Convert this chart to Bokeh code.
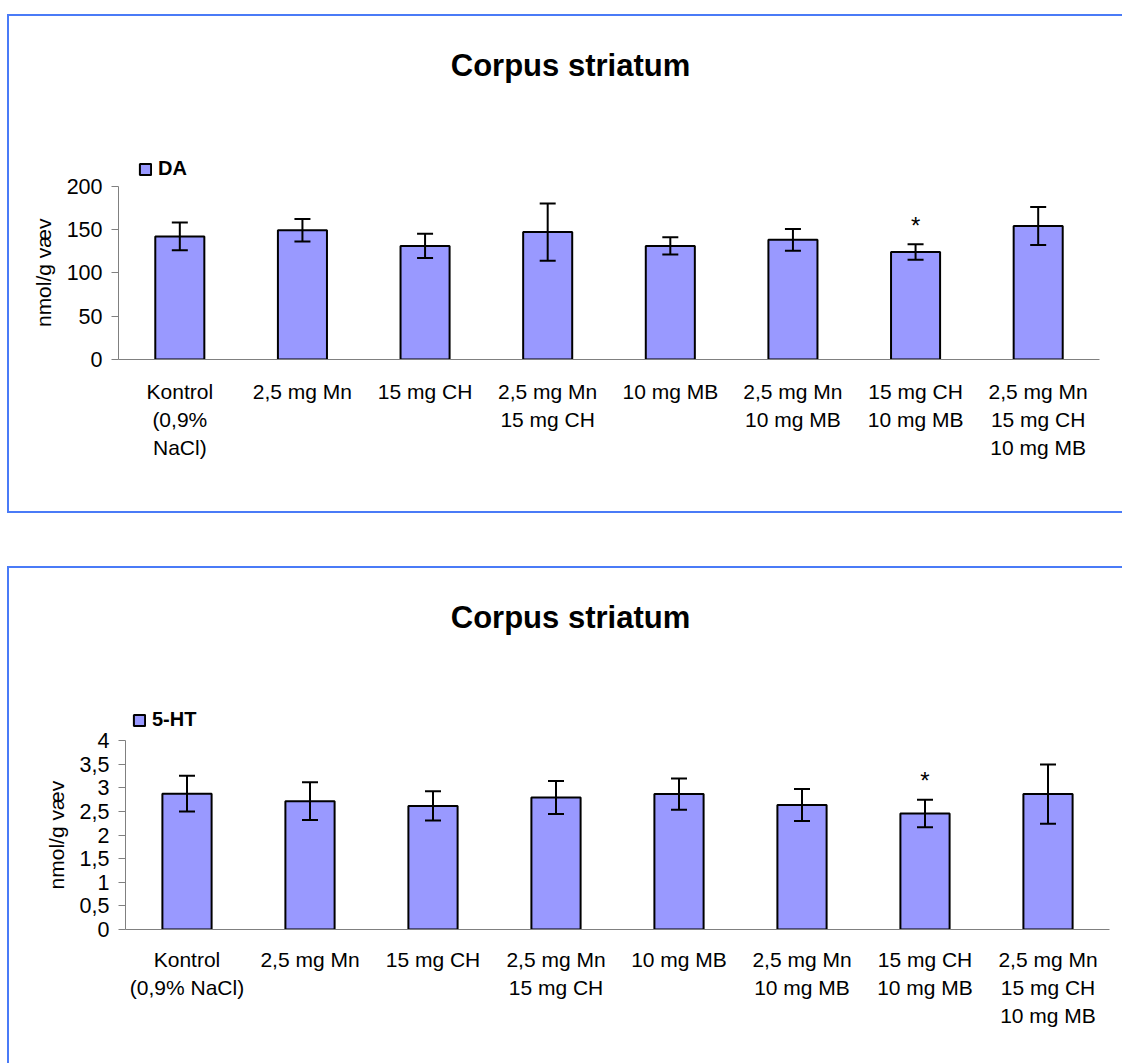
from bokeh.plotting import figure
from bokeh.models import (FactorRange, Range1d, FixedTicker, CustomJSTickFormatter, Whisker,
                          TeeHead, ColumnDataSource, Label, Legend, LegendItem, Spacer, Title)
from bokeh.layouts import column, row
from bokeh.embed import file_html
from bokeh.resources import INLINE
from bokeh.core.properties import value

# ---------------- data ----------------
groups_da = ["Kontrol\n(0,9%\nNaCl)", "2,5 mg Mn", "15 mg CH", "2,5 mg Mn\n15 mg CH",
             "10 mg MB", "2,5 mg Mn\n10 mg MB", "15 mg CH\n10 mg MB",
             "2,5 mg Mn\n15 mg CH\n10 mg MB"]
groups_ht = ["Kontrol\n(0,9% NaCl)", "2,5 mg Mn", "15 mg CH", "2,5 mg Mn\n15 mg CH",
             "10 mg MB", "2,5 mg Mn\n10 mg MB", "15 mg CH\n10 mg MB",
             "2,5 mg Mn\n15 mg CH\n10 mg MB"]
da_values = [142, 149, 131, 147, 131, 138, 124, 154]
da_sem = [16, 13, 14, 33, 10, 12.5, 9, 22]
ht_values = [2.88, 2.72, 2.62, 2.80, 2.87, 2.64, 2.46, 2.87]
ht_sem = [0.38, 0.40, 0.31, 0.35, 0.33, 0.34, 0.29, 0.63]
significant = [False, False, False, False, False, False, True, False]
da_ticks = [0, 50, 100, 150, 200]
ht_ticks = [0, 0.5, 1, 1.5, 2, 2.5, 3, 3.5, 4]
title_text = "Corpus striatum"
y_label = "nmol/g væv"

FONT = "Liberation Sans"
BAR_FILL = "#9999FF"
FRAME_BLUE = "#4a7bf7"
YLABEL_LEN = 108.5   # approx. pixel length of the rotated value-axis title


def make_chart(groups, vals, errs, ticks, legend_label, height, borders, plot_h,
               legend_loc, title_pos, label_standoff, shadow, comma):
    bl, br, bb = borders
    frame_h = height - bb
    y_end = ticks[-1] * frame_h / plot_h   # extra room above the value axis for title/legend
    p = figure(width=1115, height=height,
               x_range=FactorRange(*groups, range_padding=0, factor_padding=0),
               y_range=Range1d(ticks[0], y_end), output_backend="svg",
               toolbar_location=None, min_border_left=bl, min_border_right=br,
               min_border_top=0, min_border_bottom=bb)
    p.frame_align = False
    p.background_fill_color = None
    p.border_fill_color = None
    p.outline_line_color = None
    p.xgrid.visible = False
    p.ygrid.visible = False
    p.styles = {"box-shadow": shadow}

    upper = [v + e for v, e in zip(vals, errs)]
    lower = [v - e for v, e in zip(vals, errs)]
    src = ColumnDataSource(dict(x=groups, top=vals, upper=upper, lower=lower))
    bars = p.vbar(x="x", top="top", width=0.4, source=src, fill_color=BAR_FILL,
                  line_color="black", line_width=2)
    wh = Whisker(base="x", upper="upper", lower="lower", source=src,
                 line_color="black", line_width=2, level="overlay",
                 upper_head=TeeHead(size=16, line_color="black", line_width=2),
                 lower_head=TeeHead(size=16, line_color="black", line_width=2))
    p.add_layout(wh)

    sx = [g for g, s in zip(groups, significant) if s]
    sy = [u for u, s in zip(upper, significant) if s]
    p.text(x=sx, y=sy, text=["*"] * len(sx), text_font=value(FONT),
           text_font_size="24px", text_align="center", text_baseline="middle",
           y_offset=-19, text_color="black")

    # axes
    ya = p.yaxis[0]
    ya.ticker = FixedTicker(ticks=ticks)
    ya.bounds = (ticks[0], ticks[-1])
    if comma:
        ya.formatter = CustomJSTickFormatter(code="return tick.toString().replace('.', ',')")
    ya.axis_line_color = "#808080"
    ya.major_tick_line_color = "#808080"
    ya.major_tick_out = 7
    ya.major_tick_in = 0
    ya.minor_tick_line_color = None
    ya.major_label_text_font = FONT
    ya.major_label_text_font_size = "21.5px"
    ya.major_label_text_color = "black"
    ya.major_label_standoff = 9

    # value-axis title, centred on the 0..max part of the axis
    offset = plot_h / 2 - YLABEL_LEN / 2
    p.add_layout(Title(text=y_label, align="left", offset=offset, standoff=17,
                       text_font=FONT, text_font_size="21px", text_font_style="normal",
                       text_color="black"), "left")

    xa = p.xaxis[0]
    xa.axis_line_color = "#808080"
    xa.major_tick_line_color = None
    xa.minor_tick_line_color = None
    xa.major_label_text_font = FONT
    xa.major_label_text_font_size = "21px"
    xa.major_label_text_color = "black"
    xa.major_label_text_line_height = 1.22
    xa.major_label_standoff = label_standoff

    p.add_layout(Label(x=title_pos[0], y=title_pos[1], x_units="screen", y_units="screen",
                       text=title_text, text_font=FONT, text_font_size="31px",
                       text_font_style="bold", text_align="center",
                       text_baseline="alphabetic", text_color="black"))

    leg = Legend(items=[LegendItem(label=legend_label, renderers=[bars])],
                 location=legend_loc, glyph_width=14, glyph_height=14,
                 label_standoff=6, padding=0, margin=0, spacing=0,
                 border_line_color=None, background_fill_alpha=0,
                 label_text_font=FONT, label_text_font_size="20px",
                 label_text_font_style="bold", label_text_color="black")
    p.add_layout(leg)
    return p


sh_top = (f"inset 2px 0 0 0 {FRAME_BLUE}, inset 0 2px 0 0 {FRAME_BLUE}, "
          f"inset 0 -2px 0 0 {FRAME_BLUE}")
sh_bot = f"inset 2px 0 0 0 {FRAME_BLUE}, inset 0 2px 0 0 {FRAME_BLUE}"

p1 = make_chart(groups_da, da_values, da_sem, da_ticks, "DA", 499,
                (111, 23, 154), 173.4, (20, 179), (452, 294), 14, sh_top, False)
p2 = make_chart(groups_ht, ht_values, ht_sem, ht_ticks, "5-HT", 497,
                (118, 13, 134), 188.7, (7, 198), (445, 312), 12, sh_bot, True)

layout = row(Spacer(width=7),
             column(Spacer(height=14), p1, Spacer(height=53), p2, spacing=0),
             spacing=0)
open("out.html", "w").write(file_html(layout, INLINE))
